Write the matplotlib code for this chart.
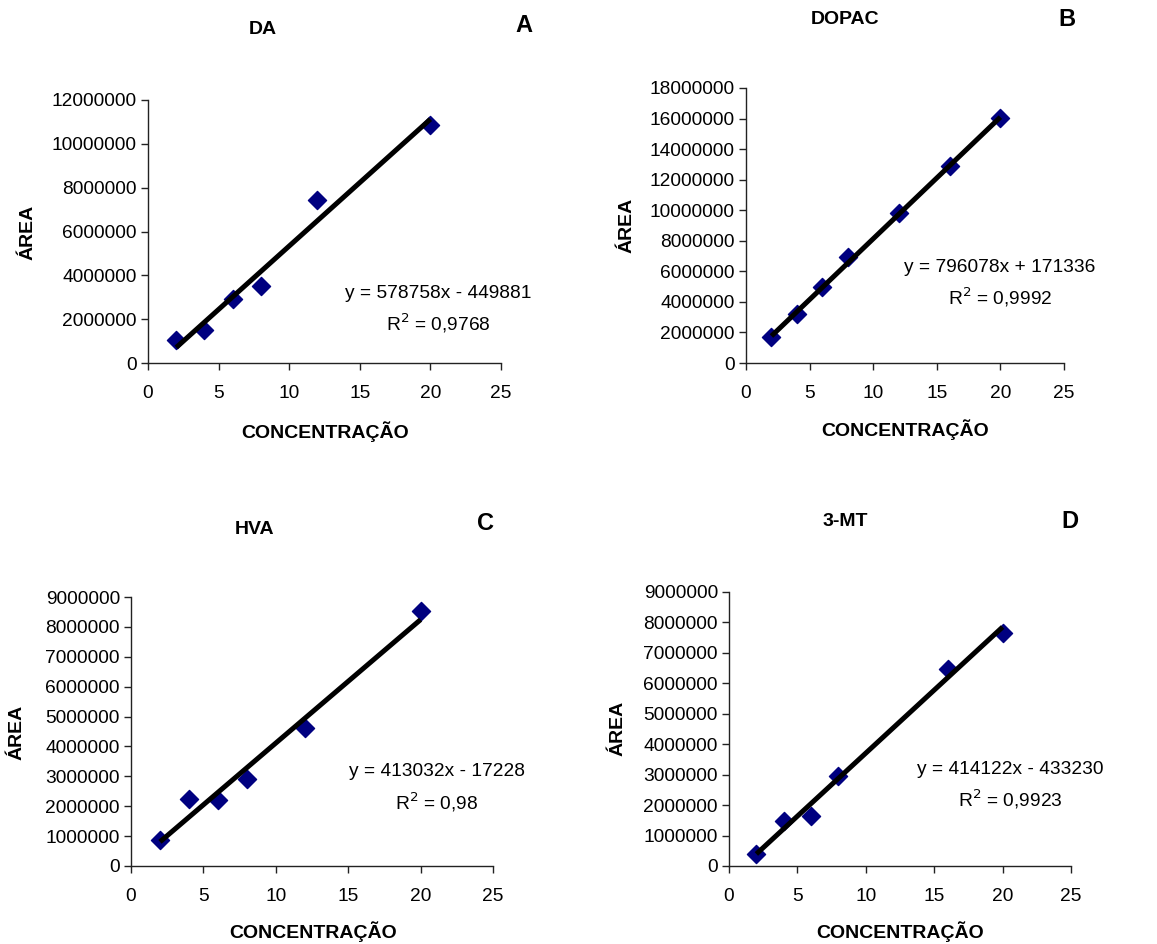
import matplotlib.pyplot as plt
from matplotlib.ticker import FuncFormatter

plt.rcParams['font.family'] = ['Liberation Sans', 'DejaVu Sans']

# dados das curvas de calibracao
da_x = [2, 4, 6, 8, 12, 20]
da_y = [1060000, 1520000, 2930000, 3500000, 7450000, 10870000]
dopac_x = [2, 4, 6, 8, 12, 16, 20]
dopac_y = [1700000, 3220000, 5000000, 6930000, 9800000, 12900000, 16050000]
hva_x = [2, 4, 6, 8, 12, 20]
hva_y = [870000, 2230000, 2200000, 2900000, 4620000, 8530000]
mt_x = [2, 4, 6, 8, 16, 20]
mt_y = [400000, 1480000, 1640000, 2950000, 6480000, 7660000]

# coeficientes das retas (a, b)
da_fit = (578758, -449881)
dopac_fit = (796078, 171336)
hva_fit = (413032, -17228)
mt_fit = (414122, -433230)

nomes = ['DA', 'DOPAC', 'HVA', '3-MT']
letras = ['A', 'B', 'C', 'D']
equacoes = ['y = 578758x - 449881', 'y = 796078x + 171336',
            'y = 413032x - 17228', 'y = 414122x - 433230']
r2 = ['0,9768', '0,9992', '0,98', '0,9923']
ymax = [12000000, 18000000, 9000000, 9000000]
ystep = [2000000, 2000000, 1000000, 1000000]

W, H = 1157, 944
fig = plt.figure(figsize=(W / 100, H / 100), dpi=100)

# caixas em pixels: esquerda, direita, topo, base
caixas = [(148, 501, 100, 363), (746, 1064, 88, 363),
          (131, 493, 597, 866), (729, 1071, 592, 866)]
titulo_pos = [(263, 30), (845, 19), (255, 530), (845, 522)]
letra_pos = [(524, 26), (1067, 20), (486, 523), (1070, 522)]
eq_pos = [(438, 293, 323), (1000, 267, 297), (437, 772, 802), (1010, 769, 799)]
ylab_pos = [(28, 232), (627, 225), (17, 732), (618, 728)]
xlab_pos = [(325, 432), (905, 430), (313, 932), (900, 932)]

dados = [(da_x, da_y, da_fit), (dopac_x, dopac_y, dopac_fit),
         (hva_x, hva_y, hva_fit), (mt_x, mt_y, mt_fit)]

for i, (xs, ys, (a, b)) in enumerate(dados):
    l, r, t, bt = caixas[i]
    ax = fig.add_axes([l / W, 1 - bt / H, (r - l) / W, (bt - t) / H])
    ax.scatter(xs, ys, marker='D', s=85, color='#000080', zorder=2, clip_on=False)
    x0, x1 = min(xs), max(xs)
    ax.plot([x0, x1], [a * x0 + b, a * x1 + b], color='black', lw=3.6,
            zorder=3, solid_capstyle='butt', clip_on=False)
    ax.set_xlim(0, 25)
    ax.set_ylim(0, ymax[i])
    ax.set_xticks(range(0, 26, 5))
    ax.set_yticks(range(0, ymax[i] + 1, ystep[i]))
    ax.yaxis.set_major_formatter(FuncFormatter(lambda v, p: '%d' % v))
    ax.spines['top'].set_visible(False)
    ax.spines['right'].set_visible(False)
    for s in ['left', 'bottom']:
        ax.spines[s].set_linewidth(1.0)
        ax.spines[s].set_color('#222222')
    ax.tick_params(direction='out', length=5, width=1, color='#222222',
                   labelsize=13.8, pad=3)
    ax.tick_params(axis='x', pad=11)

    fig.text(titulo_pos[i][0] / W, 1 - titulo_pos[i][1] / H, nomes[i],
             ha='center', va='center', fontsize=14, fontweight='bold')
    fig.text(letra_pos[i][0] / W, 1 - letra_pos[i][1] / H, letras[i],
             ha='center', va='center', fontsize=17, fontweight='bold')
    ex, ey1, ey2 = eq_pos[i]
    fig.text(ex / W, 1 - ey1 / H, equacoes[i], ha='center', va='center', fontsize=13.8)
    fig.text(ex / W, 1 - ey2 / H, 'R$^{2}$ = ' + r2[i], ha='center', va='center',
             fontsize=13.8)
    fig.text(ylab_pos[i][0] / W, 1 - ylab_pos[i][1] / H, 'ÁREA', rotation=90,
             ha='center', va='center', fontsize=14, fontweight='bold')
    fig.text(xlab_pos[i][0] / W, 1 - xlab_pos[i][1] / H, 'CONCENTRAÇÃO',
             ha='center', va='center', fontsize=14, fontweight='bold')

plt.rcParams['mathtext.fontset'] = 'custom'
plt.savefig('out.png', dpi=100)
